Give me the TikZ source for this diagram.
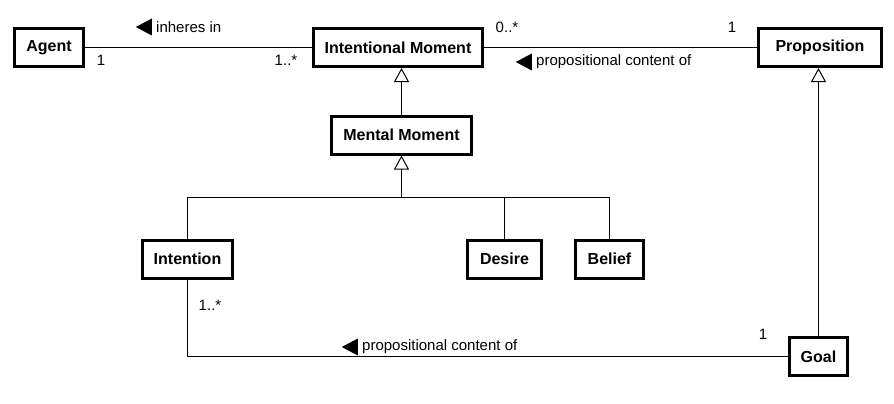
\documentclass[tikz,border=0pt]{standalone}
\usepackage{fontspec}
\setmainfont{Liberation Sans}
\usetikzlibrary{positioning}
\usetikzlibrary{arrows.meta}
\usetikzlibrary{shapes.geometric}
\tikzset{cls/.style={
    draw=black,line width=3pt,fill=white,
    minimum height=38pt,inner sep=0pt,
    font=\fontsize{16}{19}\selectfont\bfseries
  },
  assoc/.style={line width=1pt},
  gen/.style={line width=1pt,
    -{Triangle[open,width=15pt,length=14pt,line width=1pt]}
  },
  mult/.style={font=\fontsize{15}{18}\selectfont,inner sep=0pt},
  rolelbl/.style={font=\fontsize{15}{18}\selectfont,inner sep=0pt,anchor=west},
  dirtri/.style={isosceles triangle,isosceles triangle stretches,
    shape border rotate=180,fill=black,
    minimum width=17pt,minimum height=16pt,inner sep=0pt
  }
}
\begin{document}
\begin{tikzpicture}[x=1pt,y=-1pt]
      \useasboundingbox (0,0) rectangle (894,404);
      % classes
      \node[cls,minimum width=69pt]  (agent)  at (49,47.5)    {Agent};
      \node[cls,minimum width=169pt] (intmom) at (398,47.5)   {Intentional Moment};
      \node[cls,minimum width=123pt] (prop)   at (820,47.5)   {Proposition};
      \node[cls,minimum width=140pt] (menmom) at (401.5,135)  {Mental Moment};
      \node[cls,minimum width=90pt]  (intent) at (187.5,259)  {Intention};
      \node[cls,minimum width=74pt]  (desire) at (504.5,259)  {Desire};
      \node[cls,minimum width=68pt]  (belief) at (609.5,259)  {Belief};
      \node[cls,minimum width=58pt]  (goal)   at (818.5,356.5){Goal};
      \coordinate (bar) at (0,197);
      % associations
      \draw[assoc] (agent.east) -- (intmom.west);
      \draw[assoc] (intmom.east) -- (prop.west);
      \draw[assoc] (intent.south) |- (goal.west);
      % generalizations
      \draw[gen] (menmom.north) -- (menmom.north |- intmom.south);
      \draw[gen] (goal.north) -- (goal.north |- prop.south);
      \draw[assoc] (intent.north) |- (belief.north |- bar) -- (belief.north);
      \draw[assoc] (desire.north) -- (desire.north |- bar);
      \draw[gen] (menmom.south |- bar) -- (menmom.south);
      % multiplicities
      \node[mult] (m1) at (101,60)  {1};
      \node[mult] (m2) at (286,60)  {1..*};
      \node[mult] (m3) at (507,27)  {0..*};
      \node[mult] (m4) at (732,27)  {1};
      \node[mult] (m5) at (210,305) {1..*};
      \node[mult] (m6) at (763,334) {1};
      % association names
      \node[rolelbl] (inh) at (156,27) {inheres in};
      \node[dirtri,left=4pt of inh] (inhtri) {};
      \node[rolelbl] (pco1) at (536,62) {propositional content of};
      \node[dirtri,left=4pt of pco1] (pcotri1) {};
      \node[rolelbl] (pco2) at (362,347) {propositional content of};
      \node[dirtri,left=4pt of pco2] (pcotri2) {};
\end{tikzpicture}
\end{document}
